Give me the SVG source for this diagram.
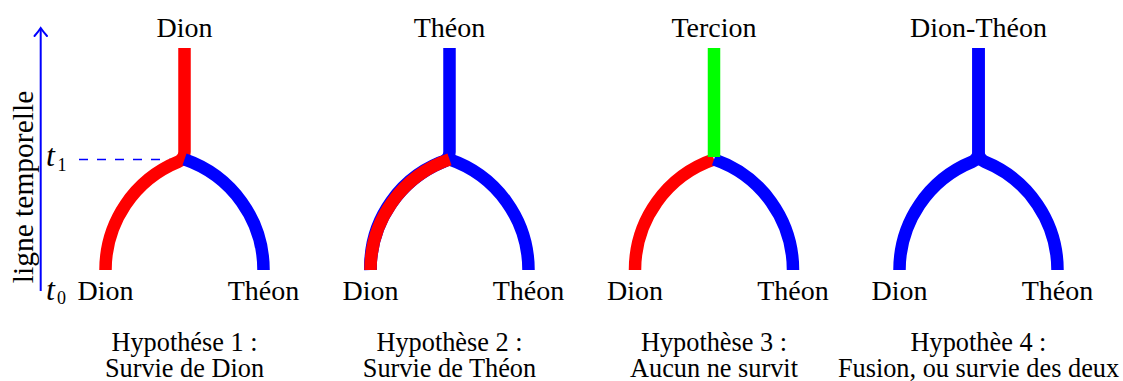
<svg xmlns="http://www.w3.org/2000/svg" width="1123" height="381" viewBox="0 0 1123 381">
<style>
  text { font-family: "Liberation Serif", "Times New Roman", serif; fill: #000; }
  .lbl { font-size: 28px; text-anchor: middle; }
  .hyp { font-size: 26.3px; text-anchor: middle; }
  .br { fill: none; stroke-width: 12.5; stroke-linecap: butt; stroke-linejoin: round; }
  .r { stroke: #ff0000; }
  .b { stroke: #0000ff; }
  .g { stroke: #00ff00; }
  .mi { font-style: italic; font-size: 32px; }
  .sub { font-size: 18px; }
</style>

<g id="timeline">
  <line x1="40.7" y1="291" x2="40.7" y2="28.5" stroke="#0000ff" stroke-width="2"/>
  <path d="M34.5,36 Q38.5,31.5 40.7,28 Q43,31.5 47,36" fill="none" stroke="#0000ff" stroke-width="2" stroke-linecap="round"/>
  <text transform="translate(33,187) rotate(-90)" font-size="29.5" text-anchor="middle">ligne temporelle</text>
  <line x1="79" y1="159.5" x2="173" y2="159.5" stroke="#0000ff" stroke-width="1.3" stroke-dasharray="9,9"/>
  <text class="mi" x="46" y="166">t</text>
  <text class="sub" x="57.5" y="170.7">1</text>
  <text class="mi" x="46" y="299.5">t</text>
  <text class="sub" x="57" y="304">0</text>
</g>

<g id="connectors">
  <!-- Panel 1 : Dion survives -->
  <g id="branches-1">
    <path class="br r" d="M105.5,270 A117,117 0 0 1 178.5,161.59 Q184.5,159.15 184.5,152 L184.5,48"/>
    <path class="br b" d="M184.5,159.34 A117,117 0 0 1 263.5,270"/>
  </g>
  <!-- Panel 2 : Théon survives -->
  <g id="branches-2">
    <path class="br b" d="M370.5,270 A117,117 0 0 1 443.5,161.59 Q449.5,159.15 449.5,152 L449.5,48"/>
    <path class="br b" d="M370.5,270 A112,112 0 0 1 449.5,159.34"/>
    <path class="br b" d="M449.5,159.34 A117,117 0 0 1 528.5,270"/>
    <path class="br r" d="M370.5,270 A117,117 0 0 1 449.5,159.34"/>
  </g>
  <!-- Panel 3 : none survives -->
  <g id="branches-3">
    <path class="br r" d="M635,270 A117,117 0 0 1 714,159.34"/>
    <path class="br b" d="M714,159.34 A117,117 0 0 1 793,270"/>
    <path class="br g" d="M714,157 L714,48"/>
  </g>
  <!-- Panel 4 : fusion -->
  <g id="branches-4">
    <path class="br b" d="M899.5,270 A117,117 0 0 1 972.5,161.59 Q978.5,159.15 978.5,152 L978.5,48"/>
    <path class="br b" d="M1057.5,270 A117,117 0 0 0 984.5,161.59 Q978.5,159.15 978.5,152 L978.5,48"/>
  </g>
</g>

<g id="node-top-1"><text class="lbl" x="184.5" y="37">Dion</text></g>
<g id="node-top-2"><text class="lbl" x="449.5" y="37">Théon</text></g>
<g id="node-top-3"><text class="lbl" x="714" y="37">Tercion</text></g>
<g id="node-top-4"><text class="lbl" x="978.5" y="37">Dion-Théon</text></g>

<g id="node-dion-1"><text class="lbl" x="105.5" y="300">Dion</text></g>
<g id="node-theon-1"><text class="lbl" x="263.5" y="300">Théon</text></g>
<g id="node-dion-2"><text class="lbl" x="370.5" y="300">Dion</text></g>
<g id="node-theon-2"><text class="lbl" x="528.5" y="300">Théon</text></g>
<g id="node-dion-3"><text class="lbl" x="635" y="300">Dion</text></g>
<g id="node-theon-3"><text class="lbl" x="793" y="300">Théon</text></g>
<g id="node-dion-4"><text class="lbl" x="899.5" y="300">Dion</text></g>
<g id="node-theon-4"><text class="lbl" x="1057.5" y="300">Théon</text></g>

<g id="caption-1">
  <text class="hyp" x="184.5" y="350.5">Hypothése 1 :<tspan x="184.5" dy="26">Survie de Dion</tspan></text>
</g>
<g id="caption-2">
  <text class="hyp" x="449.5" y="350.5">Hypothèse 2 :<tspan x="449.5" dy="26">Survie de Théon</tspan></text>
</g>
<g id="caption-3">
  <text class="hyp" x="714" y="350.5">Hypothèse 3 :<tspan x="714" dy="26">Aucun ne survit</tspan></text>
</g>
<g id="caption-4">
  <text class="hyp" x="978.5" y="350.5">Hypothèe 4 :<tspan x="978.5" dy="26">Fusion, ou survie des deux</tspan></text>
</g>
</svg>
